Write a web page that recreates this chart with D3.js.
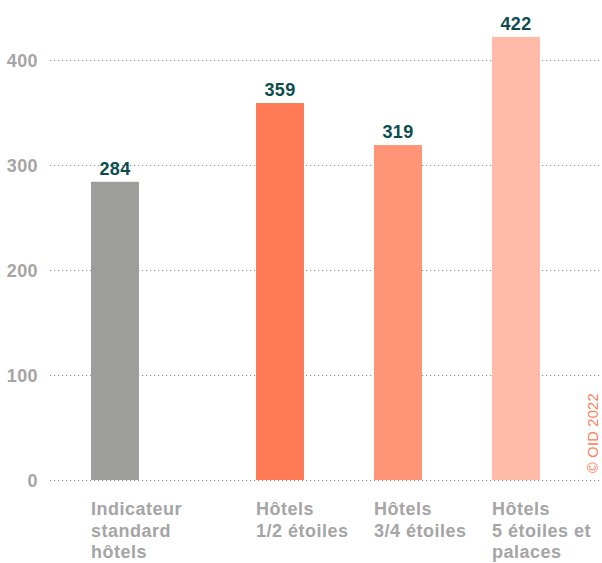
<!DOCTYPE html>
<html><head><meta charset="utf-8">
<script src="https://cdn.jsdelivr.net/npm/d3@7"></script>
<style>body{margin:0;background:#fff}svg{display:block}</style>
</head><body>
<script>
const categories = [["Indicateur","standard","hôtels"],["Hôtels","1/2 étoiles"],["Hôtels","3/4 étoiles"],["Hôtels","5 étoiles et","palaces"]];
const values = [284, 359, 319, 422];
const colors = ["#9d9d9b", "#ff7a55", "#ff9477", "#ffbba7"];
const yTicks = [0, 100, 200, 300, 400];
const credit = "© OID 2022";

const W = 602, H = 563;
const svg = d3.select("body").append("svg").attr("width", W).attr("height", H);
const font = "'Liberation Sans', Arial, sans-serif";

const y = d3.scaleLinear().domain([0, 400]).range([480, 60]);
const keys = categories.map((c, i) => i);
const x = d3.scaleBand().domain(keys).range([138, 138 + 4 * 118 - 70]).paddingInner(70 / 118).paddingOuter(0);
const firstGap = 47;
const bx = i => x(i) - (i === 0 ? firstGap : 0);

// gridlines
svg.append("g").selectAll("line").data(yTicks).join("line")
  .attr("x1", 50).attr("x2", 600)
  .attr("y1", d => Math.round(y(d)) + 0.5).attr("y2", d => Math.round(y(d)) + 0.5)
  .attr("stroke", "#8a8a8a").attr("stroke-width", 1.2).attr("stroke-dasharray", "1.2,2.8");

// tick labels
svg.append("g").selectAll("text").data(yTicks).join("text")
  .attr("x", 38).attr("y", d => y(d) + 6.5)
  .attr("text-anchor", "end").attr("font-family", font).attr("font-weight", "bold")
  .attr("font-size", 18).attr("letter-spacing", 0.4).attr("fill", "#a5a5a5").text(d => d);

// bars
svg.append("g").selectAll("rect").data(values).join("rect")
  .attr("x", (d, i) => bx(i)).attr("width", x.bandwidth())
  .attr("y", d => y(d)).attr("height", d => y(0) - y(d))
  .attr("fill", (d, i) => colors[i]);

// value labels
svg.append("g").selectAll("text").data(values).join("text")
  .attr("x", (d, i) => bx(i) + x.bandwidth() / 2).attr("y", d => y(d) - 7)
  .attr("text-anchor", "middle").attr("font-family", font).attr("font-weight", "bold")
  .attr("font-size", 18).attr("letter-spacing", 0.4).attr("fill", "#0d4d4f").text(d => d);

// category labels
const cg = svg.append("g").selectAll("text").data(categories).join("text")
  .attr("x", (d, i) => bx(i)).attr("y", 515)
  .attr("font-family", font).attr("font-weight", "bold")
  .attr("font-size", 18).attr("letter-spacing", 0.5).attr("fill", "#a5a5a5");
cg.each(function(d, i) {
  d3.select(this).selectAll("tspan").data(d).join("tspan")
    .attr("x", bx(i)).attr("dy", (t, j) => j === 0 ? 0 : 21.5).text(t => t);
});

// credit
svg.append("text").attr("transform", "translate(598,473) rotate(-90)")
  .attr("font-family", font).attr("font-size", 14.5).attr("letter-spacing", 0.3).attr("fill", "#ff7a55")
  .text(credit);
</script>
</body></html>
